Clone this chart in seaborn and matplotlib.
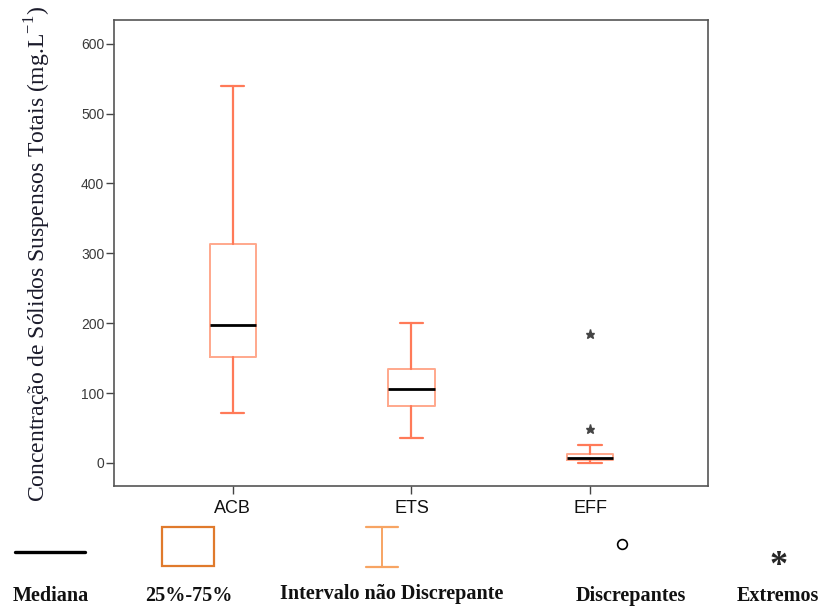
import matplotlib
matplotlib.use("Agg")
import matplotlib.pyplot as plt
from matplotlib.lines import Line2D
from matplotlib.patches import Rectangle
import seaborn as sns

# Summary statistics per sampling point (mg/L)
categories = ["ACB", "ETS", "EFF"]
whisker_low = [72, 36, 0.5]
q1 = [152, 82, 4]
median = [198, 106, 7]
q3 = [314, 135, 13]
whisker_high = [540, 200, 26]
extremes = [[], [], [49, 185]]

yticks = [0, 100, 200, 300, 400, 500, 600]
legend_labels = ["Mediana", "25%-75%", "Intervalo não Discrepante", "Discrepantes", "Extremos"]

sns.set_style("white")
plt.rcParams["font.family"] = ["Liberation Sans", "DejaVu Sans"]
plt.rcParams["mathtext.fontset"] = "custom"
plt.rcParams["mathtext.rm"] = "Liberation Serif"

W, H = 828, 607
fig = plt.figure(figsize=(W / 100, H / 100), dpi=100)
ax = fig.add_axes([114 / W, 1 - 486 / H, (708 - 114) / W, (486 - 20) / H])

stats = []
for i, name in enumerate(categories):
    stats.append(dict(label=name, whislo=whisker_low[i], q1=q1[i], med=median[i],
                      q3=q3[i], whishi=whisker_high[i], fliers=extremes[i]))

box_edge = "#ffa88c"
whisk_col = "#ff7a58"
ax.bxp(stats, positions=range(len(categories)), widths=0.26, showfliers=True,
       boxprops=dict(color=box_edge, linewidth=1.4),
       whiskerprops=dict(color=whisk_col, linewidth=1.6),
       capprops=dict(color=whisk_col, linewidth=1.6),
       medianprops=dict(color="black", linewidth=2.0),
       flierprops=dict(marker="*", markersize=6.5, markerfacecolor="#444444",
                       markeredgecolor="#444444", linestyle="none"),
       capwidths=0.13)

ax.set_xlim(-0.665, 2.66)
ax.set_ylim(-33, 634)
ax.set_yticks(yticks)
ax.set_xticks(range(len(categories)))
ax.set_xticklabels(categories, fontsize=13, color="#111111")
ax.tick_params(axis="y", labelsize=10, labelcolor="#3a3a3a", length=6, width=1.0,
               color="#444444", direction="out", left=True, pad=1)
ax.tick_params(axis="x", length=6, width=1.0, color="#444444", direction="out",
               bottom=True, pad=4)
for s in ax.spines.values():
    s.set_color("#555555")
    s.set_linewidth(1.2)

ax.set_ylabel("Concentração de Sólidos Suspensos Totais (mg.L$^{\\mathregular{-1}}$)",
              fontsize=17, family="Liberation Serif", color="#1a1a2a")
ax.yaxis.set_label_coords(-0.102, 0.497)

# Key explaining the box symbols
def fx(px):
    return px / W

def fy(py):
    return 1 - py / H

fig.add_artist(Line2D([fx(15), fx(85)], [fy(552), fy(552)], color="black", linewidth=2.4,
                      transform=fig.transFigure))
fig.add_artist(Rectangle((fx(162), fy(566)), fx(214) - fx(162), fy(527) - fy(566),
                         fill=False, edgecolor="#e07a2c", linewidth=1.6,
                         transform=fig.transFigure))
wc = "#f7a463"
fig.add_artist(Line2D([fx(382), fx(382)], [fy(527), fy(567)], color=wc, linewidth=1.4,
                      transform=fig.transFigure))
for yy in (527, 567):
    fig.add_artist(Line2D([fx(366), fx(398)], [fy(yy), fy(yy)], color=wc, linewidth=1.6,
                          transform=fig.transFigure))
fig.add_artist(Line2D([fx(622)], [fy(544)], marker="o", markersize=7, markerfacecolor="white",
                      markeredgecolor="black", markeredgewidth=1.2, linestyle="none",
                      transform=fig.transFigure))
fig.text(fx(779), fy(575), "*", ha="center", va="baseline", fontsize=26, fontweight="bold",
         family="Liberation Serif")

label_x = [51, 189, 392, 631, 778]
label_y = [601, 601, 599, 601, 601]
for lx, ly, txt in zip(label_x, label_y, legend_labels):
    fig.text(fx(lx), fy(ly), txt, ha="center", va="baseline", fontsize=14.5,
             fontweight="bold", family="Liberation Serif", color="#111111")

fig.savefig("out.png", dpi=100)
